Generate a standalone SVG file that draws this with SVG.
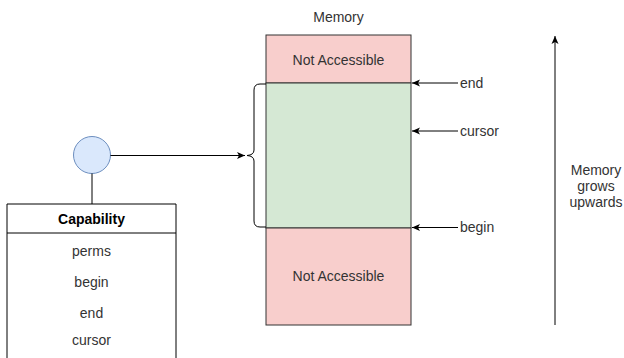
<svg xmlns="http://www.w3.org/2000/svg" width="624" height="358" viewBox="0 0 624 358">
<defs>
<style>
text{font-family:"Liberation Sans",Arial,sans-serif;font-size:14px;fill:#333;}
.c{text-anchor:middle;}
.ln{stroke:#000;stroke-width:1;fill:none;}
</style>
<marker id="ah" markerWidth="10" markerHeight="10" refX="9" refY="5" orient="auto" markerUnits="userSpaceOnUse">
<path d="M1,1.5 L9,5 L1,8.5 L3,5 Z" fill="#000"/>
</marker>
</defs>
<rect width="624" height="358" fill="#fff"/>
<g id="memory">
<text class="c" x="338.5" y="22">Memory</text>
<rect x="266" y="35" width="145" height="48" fill="#f8cecc" stroke="#333"/>
<text class="c" x="338.5" y="64.5">Not Accessible</text>
<rect x="266" y="83" width="145" height="145" fill="#d5e8d4" stroke="#333"/>
<rect x="266" y="228" width="145" height="97" fill="#f8cecc" stroke="#333"/>
<text class="c" x="338.5" y="281">Not Accessible</text>
</g>
<g id="brace">
<path class="ln" d="M266,84 L260,84 Q254,84 254,90 L254,150 Q254,155 247,155.5 Q254,156 254,161 L254,221 Q254,227 260,227 L266,227"/>
</g>
<g id="pointer">
<circle cx="92" cy="155" r="18.5" fill="#dae8fc" stroke="#6c8ebf"/>
</g>
<g id="capability">
<path d="M7,358 L7,204 L176,204 L176,358" fill="#fff" stroke="#000"/>
<line x1="7" y1="233" x2="176" y2="233" stroke="#000"/>
<text class="c" x="91.5" y="224" style="font-weight:bold;fill:#000">Capability</text>
<text class="c" x="91.5" y="256">perms</text>
<text class="c" x="91.5" y="287">begin</text>
<text class="c" x="91.5" y="318">end</text>
<text class="c" x="91.5" y="345">cursor</text>
</g>
<g id="labels">
<text x="460" y="88">end</text>
<text x="460" y="136">cursor</text>
<text x="460" y="232">begin</text>
<text class="c" x="596" y="175">Memory</text>
<text class="c" x="596" y="191">grows</text>
<text class="c" x="596" y="207">upwards</text>
</g>
<g id="connectors">
<line class="ln" x1="110.5" y1="155.5" x2="245" y2="155.5" marker-end="url(#ah)"/>
<line class="ln" x1="92" y1="173.5" x2="92" y2="204"/>
<line class="ln" x1="458" y1="83" x2="412" y2="83" marker-end="url(#ah)"/>
<line class="ln" x1="458" y1="131" x2="412" y2="131" marker-end="url(#ah)"/>
<line class="ln" x1="458" y1="227.5" x2="412" y2="227.5" marker-end="url(#ah)"/>
<line class="ln" x1="555" y1="325" x2="555" y2="36" marker-end="url(#ah)"/>
</g>
</svg>
